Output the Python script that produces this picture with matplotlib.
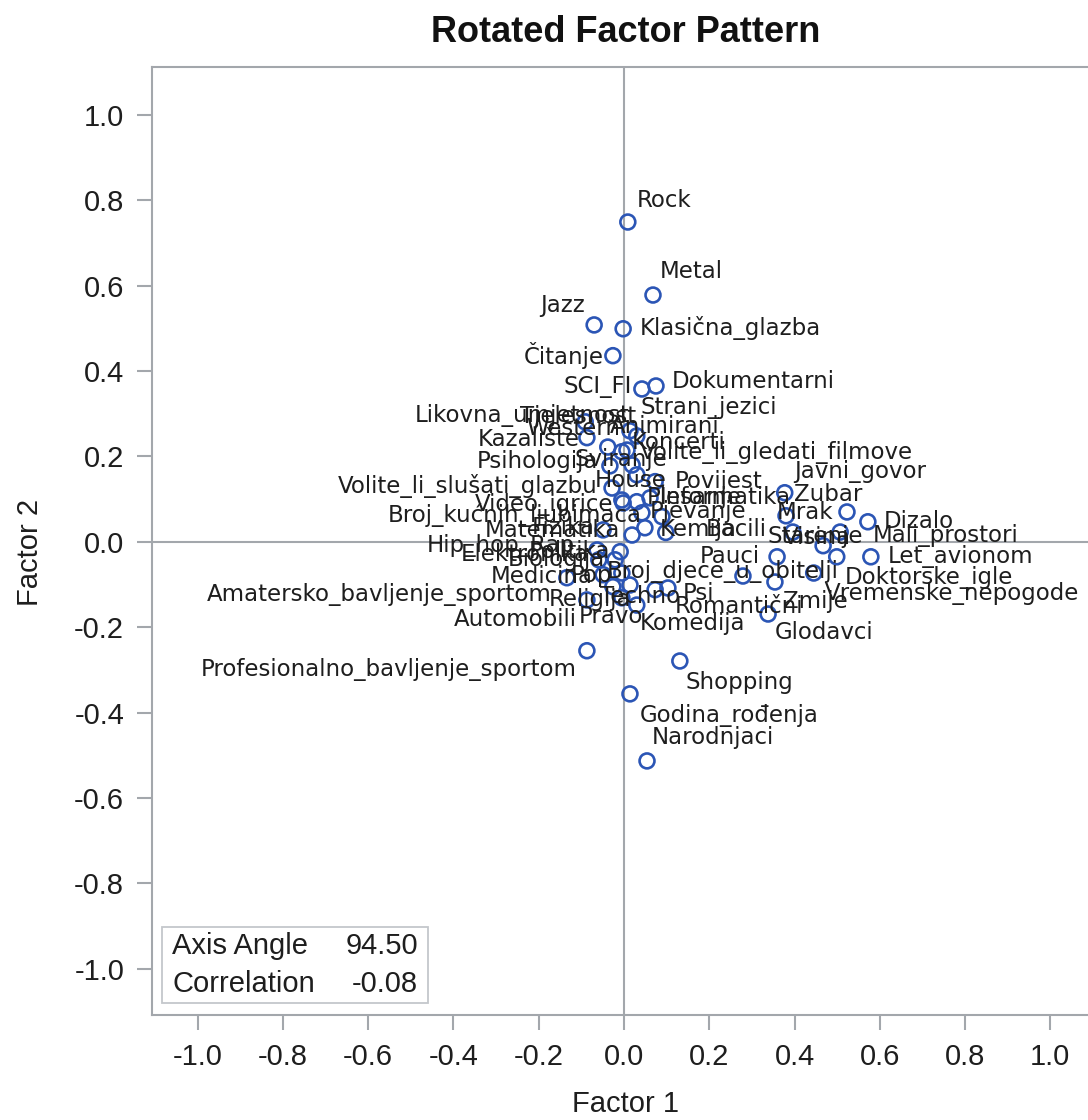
import matplotlib
matplotlib.use("Agg")
import matplotlib.pyplot as plt
from matplotlib.patches import Rectangle

# ---------------- data ----------------
variables = [
    "Rock", "Metal", "Jazz", "Klasična_glazba", "Čitanje", "SCI_FI", "Dokumentarni",
    "Strani_jezici", "Likovna_umjetnost", "Tjelesnost", "Western", "Animirani",
    "Kazalište", "Koncerti", "Sviranje", "Volite_li_gledati_filmove", "Psihologija",
    "House", "Povijest", "Volite_li_slušati_glazbu", "Video_igrice", "Plesanje",
    "Informatika", "Pjevanje", "Broj_kućnih_ljubimaca", "Matematika", "Fizika",
    "Kemija", "Bacili", "Hip_hop_Rap", "Elektronika", "Politika", "Pauci",
    "Medicina", "Broj_djece_u_obitelji", "Amatersko_bavljenje_sportom", "Religija",
    "Techno", "Psi", "Romantični", "Zmije", "Vremenske_nepogode", "Doktorske_igle",
    "Let_avionom", "Dizalo", "Mali_prostori", "Javni_govor", "Zubar", "Mrak",
    "Visina", "Starenje", "Glodavci", "Komedija", "Pravo", "Automobili",
    "Profesionalno_bavljenje_sportom", "Shopping", "Godina_rođenja", "Narodnjaci",
    "Biologija", "Pop",
]
factor1 = [
    0.009, 0.068, -0.070, -0.002, -0.026, 0.042, 0.075,
    0.014, 0.030, -0.091, -0.038, 0.007,
    -0.087, -0.005, 0.019, 0.030, -0.033,
    -0.005, 0.073, -0.028, -0.002, 0.030,
    0.042, 0.049, 0.061, 0.019, -0.049,
    0.089, 0.098, -0.063, -0.059, -0.009, 0.359,
    -0.049, 0.279, -0.134, -0.026,
    0.014, 0.103, 0.073, 0.354, 0.445, 0.499,
    0.579, 0.572, 0.507, 0.523, 0.377, 0.380,
    0.396, 0.467, 0.338, 0.030, -0.005, -0.087,
    -0.087, 0.131, 0.014, 0.054,
    -0.021, -0.005,
]
factor2 = [
    0.749, 0.578, 0.508, 0.499, 0.436, 0.358, 0.365,
    0.260, 0.248, 0.281, 0.222, 0.215,
    0.244, 0.211, 0.180, 0.157, 0.178,
    0.098, 0.141, 0.126, 0.091, 0.094,
    0.068, 0.033, 0.103, 0.016, 0.028,
    0.059, 0.022, -0.019, -0.042, -0.023, -0.035,
    -0.077, -0.080, -0.084, -0.105,
    -0.101, -0.108, -0.112, -0.094, -0.073, -0.035,
    -0.035, 0.047, 0.023, 0.070, 0.115, 0.061,
    0.023, -0.009, -0.169, -0.148, -0.131, -0.136,
    -0.255, -0.279, -0.356, -0.513,
    -0.042, -0.073,
]
axis_angle = 94.50
correlation = -0.08
tick_values = [-1.0, -0.8, -0.6, -0.4, -0.2, 0.0, 0.2, 0.4, 0.6, 0.8, 1.0]

# label placement (pixel offsets from the marker) - styling only
label_dx = [
    9, 7, -9, 17, -9, -10, 16,
    11, -7, -7, 12, -17,
    -7, 10, -11, 3, -12,
    9, 20, -14, -10, 10,
    18, 5, -8, -12, -8,
    -2, 40, -22, -10, -10, -17,
    -10, -20, -15, -23,
    10, 15, 20, 8, 11, 8,
    17, 16, 33, 13, 9, -9,
    -10, -8, 7, 3, -11, -10,
    -10, 6, 10, 5,
    -10, -10,
]
label_dy = [
    22, 24, 19, 1, 0, 2, 4,
    23, 20, 5, 19, 24,
    -2, 9, 5, 22, 4,
    20, 0, 2, -2, 4,
    15, 16, -17, 5, 2,
    -13, 3, 4, 5, 0, 0,
    -2, 5, -17, -13,
    -12, -6, -17, -20, -20, -21,
    0, 0, -3, 40, -2, 3,
    -5, 9, -18, -18, -19, -20,
    -19, -22, -22, 23,
    0, -2,
]
label_ha = [
    "left", "left", "right", "left", "right", "right", "left",
    "left", "right", "center", "right", "left",
    "right", "left", "center", "left", "right",
    "center", "left", "right", "right", "left",
    "left", "left", "right", "right", "right",
    "left", "left", "right", "right", "right", "right",
    "right", "center", "right", "center",
    "center", "left", "left", "left", "left", "left",
    "left", "left", "left", "center", "left", "left",
    "left", "center", "left", "left", "center", "right",
    "right", "left", "left", "left",
    "right", "right",
]

# ---------------- figure ----------------
W, H = 1088, 1120
fig = plt.figure(figsize=(W / 100, H / 100), dpi=100)
ax = fig.add_axes([152 / W, 105 / H, (1093 - 152) / W, (1015 - 67) / H])

grey = "#a3a7ac"
blue = "#2b55b5"
txt = "#1e1e1e"
tick_font = "Liberation Sans"

ax.set_xlim(-1.107, 1.100)
ax.set_ylim(-1.108, 1.112)

ax.axhline(0, color=grey, lw=1.5, zorder=1)
ax.axvline(0, color=grey, lw=1.5, zorder=1)

ax.scatter(factor1, factor2, s=115, facecolors="none", edgecolors=blue,
           linewidths=1.9, zorder=3)

for name, x, y, dx, dy, ha in zip(variables, factor1, factor2,
                                  label_dx, label_dy, label_ha):
    ax.annotate(name, (x, y), xytext=(dx, dy), textcoords="offset pixels",
                ha=ha, va="center", fontsize=16.5, color=txt,
                family="DejaVu Sans", zorder=4)

ax.set_xticks(tick_values)
ax.set_yticks(tick_values)
ax.set_xticklabels([f"{v:.1f}" for v in tick_values])
ax.set_yticklabels([f"{v:.1f}" for v in tick_values])
ax.tick_params(axis="both", length=11, width=1.5, color=grey, labelsize=21,
               labelcolor=txt, pad=9)
for lab in ax.get_xticklabels() + ax.get_yticklabels():
    lab.set_family(tick_font)
for sp in ax.spines.values():
    sp.set_color(grey)
    sp.set_linewidth(1.5)

fig.text(30 / W, 1 - 552 / H, "Factor 2", rotation=90, ha="center", va="center",
         fontsize=21, family=tick_font, color=txt)
fig.text(625 / W, 1 - 1104 / H, "Factor 1", ha="center", va="center",
         fontsize=21, family=tick_font, color=txt)
fig.text(626 / W, 1 - 33 / H, "Rotated Factor Pattern", ha="center", va="center",
         fontsize=26, fontweight="bold", family=tick_font, color="#111111")

# inset statistics box
bx0, by0, bx1, by1 = 162, 927, 428, 1003
fig.patches.append(Rectangle((bx0 / W, 1 - by1 / H), (bx1 - bx0) / W,
                             (by1 - by0) / H, transform=fig.transFigure,
                             fill=True, facecolor="white", edgecolor="#c4c7cb",
                             lw=1.3, zorder=5))
fig.text(172 / W, 1 - 946 / H, "Axis Angle", ha="left", va="center",
         fontsize=21, family=tick_font, color=txt, zorder=6)
fig.text(418 / W, 1 - 946 / H, f"{axis_angle:.2f}", ha="right", va="center",
         fontsize=21, family=tick_font, color=txt, zorder=6)
fig.text(172 / W, 1 - 984 / H, "Correlation", ha="left", va="center",
         fontsize=21, family=tick_font, color=txt, zorder=6)
fig.text(418 / W, 1 - 984 / H, f"{correlation:.2f}", ha="right", va="center",
         fontsize=21, family=tick_font, color=txt, zorder=6)

fig.savefig("out.png", dpi=100, facecolor="white")
